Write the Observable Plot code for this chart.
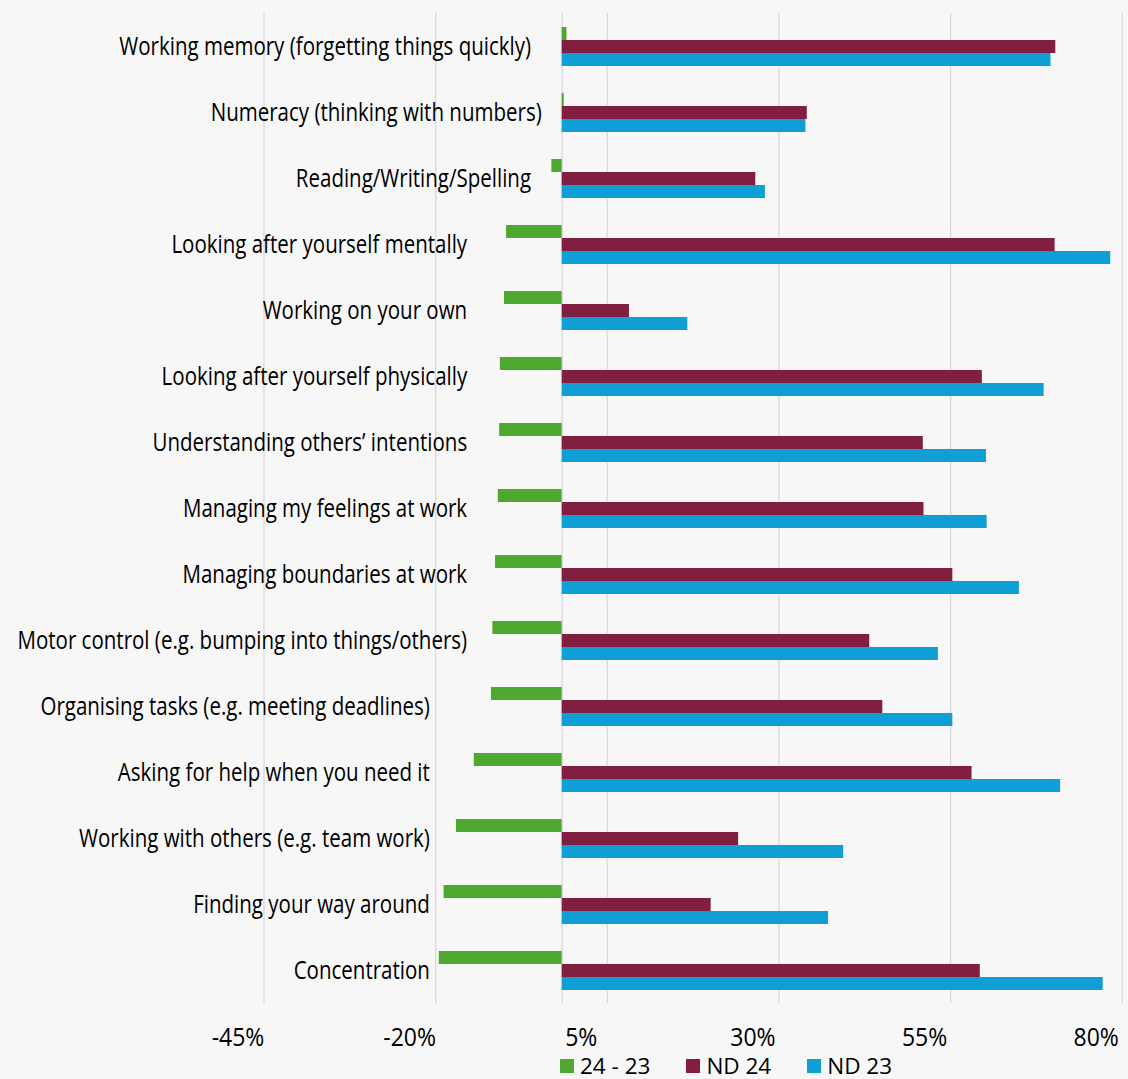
<!DOCTYPE html>
<html>
<head>
<meta charset="utf-8">
<script src="https://cdn.jsdelivr.net/npm/d3@7"></script>
<script src="https://cdn.jsdelivr.net/npm/@observablehq/plot@0.6"></script>
<style>
  html, body { margin: 0; padding: 0; background: #f7f7f7; }
  body { width: 1128px; height: 1079px; overflow: hidden; position: relative; font-family: "Open Sans", sans-serif; }
  #legend { position: absolute; left: 560px; top: 1055px; display: flex; align-items: center; font-size: 22.5px; line-height: 1; color: #000; }
  #legend .item { display: flex; align-items: center; margin-right: 36px; }
  #legend .sw { width: 14px; height: 14px; margin-right: 6px; }
</style>
</head>
<body>
<div id="chart"></div>
<div id="legend"></div>
<script>
// ---- data ----
const categories = [
  "Working memory (forgetting things quickly)",
  "Numeracy (thinking with numbers)",
  "Reading/Writing/Spelling",
  "Looking after yourself mentally",
  "Working on your own",
  "Looking after yourself physically",
  "Understanding others’ intentions",
  "Managing my feelings at work",
  "Managing boundaries at work",
  "Motor control (e.g. bumping into things/others)",
  "Organising tasks (e.g. meeting deadlines)",
  "Asking for help when you need it",
  "Working with others (e.g. team work)",
  "Finding your way around",
  "Concentration"
];
const diff24_23 = [0.7, 0.3, -1.5, -8.1, -8.4, -9.0, -9.1, -9.3, -9.7, -10.1, -10.3, -12.8, -15.4, -17.2, -17.9];
const nd24 = [71.9, 35.7, 28.2, 71.8, 9.8, 61.2, 52.6, 52.7, 56.9, 44.8, 46.7, 59.7, 25.7, 21.7, 60.9];
const nd23 = [71.2, 35.5, 29.6, 79.9, 18.3, 70.2, 61.8, 61.9, 66.6, 54.8, 56.9, 72.6, 41.0, 38.8, 78.8];
const seriesNames = ["24 - 23", "ND 24", "ND 23"];
const xTicks = [-45, -20, 5, 30, 55, 80];

// ---- layout / style ----
const colors = ["#4EA72E", "#821E40", "#0F9ED5"];
const labelShift = 1.57;            // printed tick labels sit offset from the bars' zero line
const labelPad = [5, 3, 5, 17, 17, 17, 17, 17, 17, 17, 24, 24, 24, 24, 24]; // trailing spaces in the category labels
const gridColor = "#d9d9d9";

const rows = [];
categories.forEach((c, i) => {
  rows.push({cat: c, series: seriesNames[0], value: diff24_23[i]});
  rows.push({cat: c, series: seriesNames[1], value: nd24[i]});
  rows.push({cat: c, series: seriesNames[2], value: nd23[i]});
});
const gridAt = xTicks.map(t => t + labelShift);

const chart = Plot.plot({
  width: 1128,
  height: 1055,
  marginTop: 11,
  marginBottom: 50,
  marginLeft: 263.5,
  marginRight: 6.3,
  style: {background: "#f7f7f7", fontFamily: "'Open Sans', sans-serif", color: "#000"},
  x: {domain: [gridAt[0], gridAt[gridAt.length - 1]], label: null},
  y: {domain: seriesNames, paddingInner: 0, paddingOuter: 0.924, axis: null},
  fy: {domain: categories, padding: 0, axis: null},
  color: {domain: seriesNames, range: colors},
  marks: [
    Plot.gridX(gridAt, {stroke: gridColor, strokeOpacity: 1, strokeWidth: 1.3}),
    Plot.ruleX([0], {stroke: gridColor, strokeWidth: 1.3}),
    Plot.barX(rows, {fy: "cat", y: "series", x1: () => 0, x2: "value", fill: "series"}),
    Plot.text(categories, {
      fy: d => d, x: () => 0,
      text: (d, i) => d + "\u00A0".repeat(labelPad[i]),
      textAnchor: "end", dx: -4.5, fontSize: 25, fill: "#000"
    }),
    Plot.axisX(gridAt, {
      tickSize: 0, tickPadding: 25, fontSize: 25, dx: -26, textAnchor: "middle",
      tickFormat: t => Math.round(t - labelShift) + "%", label: null, fill: "#000"
    })
  ]
});

document.getElementById("chart").append(chart);

// horizontal compression of the text, as in the reference rendering
function squeeze(sel, k) {
  chart.querySelectorAll(sel).forEach(t => {
    const w = t.getComputedTextLength();
    t.setAttribute("textLength", w * k);
    t.setAttribute("lengthAdjust", "spacingAndGlyphs");
  });
}
squeeze('g[aria-label="text"] text', 0.82);
squeeze('g[aria-label="x-axis tick label"] text', 0.92);

// legend below the chart
const legend = document.getElementById("legend");
seriesNames.forEach((s, i) => {
  const item = document.createElement("div");
  item.className = "item";
  const sw = document.createElement("span");
  sw.className = "sw";
  sw.style.background = colors[i];
  const tx = document.createElement("span");
  tx.textContent = s;
  item.append(sw, tx);
  legend.append(item);
});
</script>
</body>
</html>
